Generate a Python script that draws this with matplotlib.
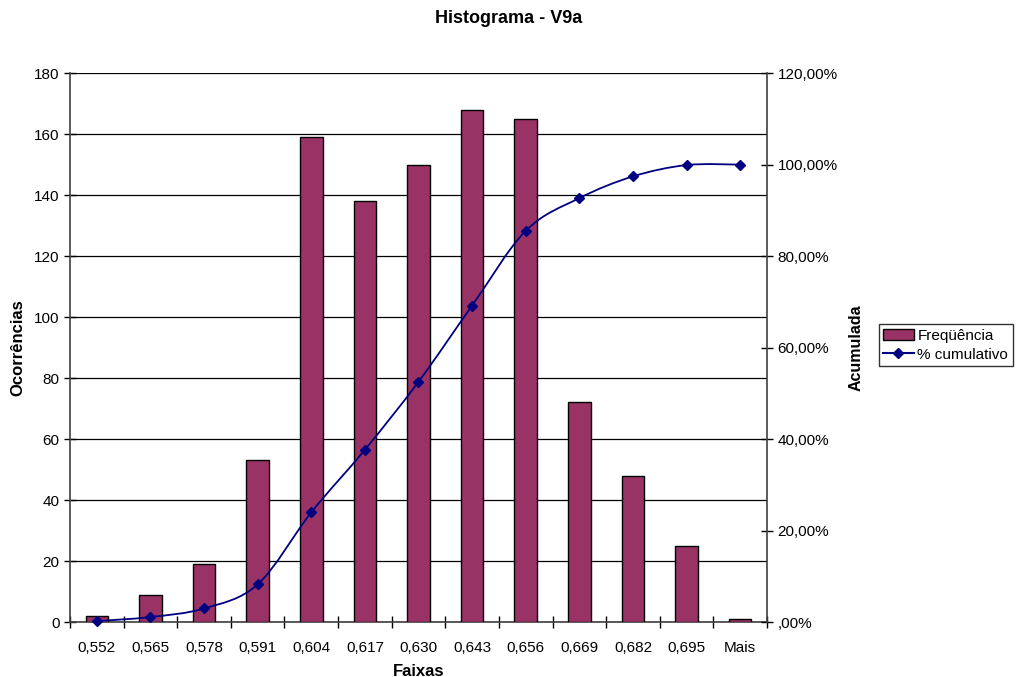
import numpy as np
import matplotlib
matplotlib.use("Agg")
import matplotlib.pyplot as plt
from matplotlib.path import Path
from matplotlib.patches import PathPatch
from matplotlib.lines import Line2D
from matplotlib.ticker import FuncFormatter, FixedLocator

plt.rcParams['font.family'] = ['Liberation Sans', 'DejaVu Sans']

faixas = ["0,552", "0,565", "0,578", "0,591", "0,604", "0,617", "0,630",
          "0,643", "0,656", "0,669", "0,682", "0,695", "Mais"]
frequencia = [2, 9, 19, 53, 159, 138, 150, 168, 165, 72, 48, 25, 1]
cumulativo = [0.20, 1.09, 2.97, 8.23, 23.98, 37.66, 52.53, 69.18, 85.53,
              92.67, 97.42, 99.90, 100.00]

bar_color = "#993366"
line_color = "#000080"


def smooth_path(xs, ys, t=1.0 / 6):
    # excel-like smoothed line drawn as bezier segments through the points
    verts = [(xs[0], ys[0])]
    codes = [Path.MOVETO]
    n = len(xs)
    for i in range(n - 1):
        x0, y0 = (xs[i - 1], ys[i - 1]) if i > 0 else (xs[i], ys[i])
        x1, y1 = xs[i], ys[i]
        x2, y2 = xs[i + 1], ys[i + 1]
        x3, y3 = (xs[i + 2], ys[i + 2]) if i + 2 < n else (x2, y2)
        c1 = (x1 + (x2 - x0) * t, y1 + (y2 - y0) * t)
        c2 = (x2 - (x3 - x1) * t, y2 - (y3 - y1) * t)
        verts += [c1, c2, (x2, y2)]
        codes += [Path.CURVE4] * 3
    return Path(verts, codes)


fig = plt.figure(figsize=(10.18, 6.77), dpi=100)
ax = fig.add_axes([0.0688, 0.0812, 0.6846, 0.8108])
x = np.arange(len(faixas))

ax.bar(x, frequencia, width=0.42, color=bar_color, edgecolor="black",
       linewidth=1.0, zorder=3)
ax.set_xlim(-0.5, len(faixas) - 0.5)
ax.set_ylim(0, 180)
ax.set_yticks(range(0, 181, 20))
ax.yaxis.grid(True, color="black", linewidth=0.9)
ax.set_axisbelow(True)
ax.set_xticks(x)
ax.set_xticklabels(faixas, fontsize=11)
ax.xaxis.set_minor_locator(FixedLocator(np.arange(-0.5, len(faixas), 1.0)))
ax.tick_params(axis="x", which="major", length=0, pad=14)
ax.tick_params(axis="x", which="minor", length=8, direction="inout", width=1.0)
ax.tick_params(axis="y", length=8, direction="inout", labelsize=11, width=1.0)
for s in ["top", "right"]:
    ax.spines[s].set_visible(False)
for s in ["left", "bottom"]:
    ax.spines[s].set_color("#404040")
    ax.spines[s].set_linewidth(1.2)
ax.set_ylabel("Ocorrências", fontsize=12, fontweight="bold", labelpad=6)
ax.set_xlabel("Faixas", fontsize=12, fontweight="bold", labelpad=6)

ax2 = ax.twinx()
ax2.set_ylim(0, 120)
ax2.set_yticks(range(0, 121, 20))
ax2.yaxis.set_major_formatter(FuncFormatter(
    lambda v, p: ",00%" if v == 0 else f"{int(v)},00%"))
ax2.tick_params(axis="y", length=8, direction="inout", labelsize=11, width=1.0)
for s in ["top", "left", "bottom"]:
    ax2.spines[s].set_visible(False)
ax2.spines["right"].set_color("#404040")
ax2.spines["right"].set_linewidth(1.2)
ax2.add_patch(PathPatch(smooth_path(list(x), cumulativo), fill=False,
                        edgecolor=line_color, linewidth=1.3, zorder=4))
ax2.plot(x, cumulativo, linestyle="none", marker="D", markersize=5,
         color=line_color, zorder=5, clip_on=False)
ax2.set_ylabel("Acumulada", fontsize=11.5, fontweight="bold", rotation=90,
               labelpad=8)

fig.suptitle("Histograma - V9a", fontsize=13, fontweight="bold", y=0.985,
             x=0.5)

handles = [plt.Rectangle((0, 0), 1, 1, facecolor=bar_color, edgecolor="black"),
           Line2D([], [], color=line_color, marker="D", markersize=5)]
leg = fig.legend(handles, ["Freqüência", "% cumulativo"],
                 loc="center left", bbox_to_anchor=(0.863, 0.49),
                 fontsize=11, frameon=True, fancybox=False, borderpad=0.3,
                 handlelength=2.0, handletextpad=0.25, labelspacing=0.3,
                 borderaxespad=0)
leg.get_frame().set_edgecolor("black")
leg.get_frame().set_linewidth(1.0)

fig.savefig("out.png", dpi=100)
